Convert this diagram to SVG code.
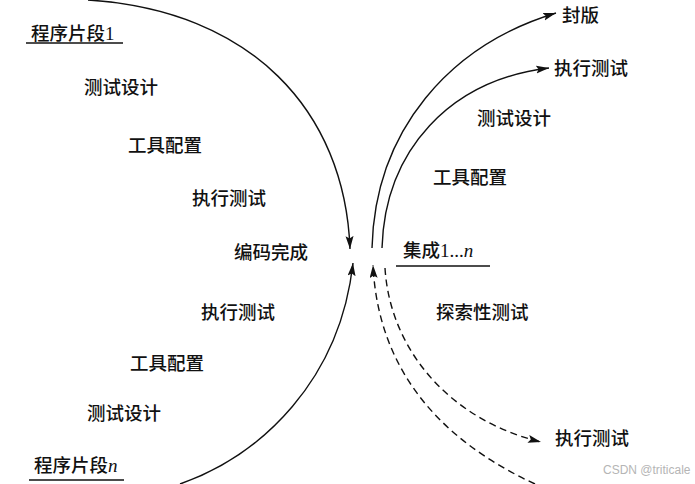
<svg xmlns="http://www.w3.org/2000/svg" width="695" height="484" viewBox="0 0 695 484">
<style>
  .t { font-family: "Noto Sans CJK SC", "Liberation Serif", serif; font-size: 18.5px; font-weight: 500; fill: #111; }
  .num { font-family: "Liberation Serif", serif; font-weight: normal; font-size: 19px; }
  .it { font-style: italic; }
  .c { fill: none; stroke: #111; stroke-width: 1.4; }
  .d { stroke-dasharray: 7 4.5; }
  .ul { stroke: #111; stroke-width: 1.3; }
  .wm { font-family: "Liberation Sans", sans-serif; font-size: 12px; fill: #b5b5b5; }
</style>
<defs>
  <marker id="ah" markerUnits="userSpaceOnUse" markerWidth="14" markerHeight="10" refX="13" refY="4" orient="auto">
    <path d="M0,0 L13,4 L0,8 L2.5,4 z" fill="#111"/>
  </marker>
</defs>
<rect width="695" height="484" fill="#fff"/>
<g id="connectors">
  <path class="c" d="M88,0 C250,10 345,110 350,249" marker-end="url(#ah)"/>
  <path class="c" d="M180,484 C262,455 340,380 353,263" marker-end="url(#ah)"/>
  <path class="c" d="M372,248 C375,130 450,45 556,13" marker-end="url(#ah)"/>
  <path class="c" d="M382,248 C385,150 450,80 549,68" marker-end="url(#ah)"/>
  <path class="c d" d="M385,268 C390,350 450,420 541,442" marker-end="url(#ah)"/>
  <path class="c d" d="M535,484 C440,440 378,370 373,265" marker-end="url(#ah)"/>
</g>
<g id="seg1">
  <text class="t" x="31" y="40">程序片段<tspan class="num">1</tspan></text>
  <line class="ul" x1="26" y1="43" x2="123" y2="43"/>
</g>
<g id="seg1-design"><text class="t" x="84" y="94">测试设计</text></g>
<g id="seg1-tool"><text class="t" x="128" y="152">工具配置</text></g>
<g id="seg1-exec"><text class="t" x="192" y="205">执行测试</text></g>
<g id="coding-done"><text class="t" x="234" y="259">编码完成</text></g>
<g id="segn-exec"><text class="t" x="201" y="319">执行测试</text></g>
<g id="segn-tool"><text class="t" x="130" y="370">工具配置</text></g>
<g id="segn-design"><text class="t" x="87" y="420">测试设计</text></g>
<g id="segn">
  <text class="t" x="34" y="472">程序片段<tspan class="num it">n</tspan></text>
  <line class="ul" x1="29" y1="480" x2="124" y2="480"/>
</g>
<g id="release"><text class="t" x="562" y="22">封版</text></g>
<g id="int-exec"><text class="t" x="554" y="75">执行测试</text></g>
<g id="int-design"><text class="t" x="477" y="125">测试设计</text></g>
<g id="int-tool"><text class="t" x="433" y="184">工具配置</text></g>
<g id="integration">
  <text class="t" x="403" y="257">集成<tspan class="num">1...</tspan><tspan class="num it">n</tspan></text>
  <line class="ul" x1="396" y1="266" x2="490" y2="266"/>
</g>
<g id="explore"><text class="t" x="436" y="319">探索性测试</text></g>
<g id="explore-exec"><text class="t" x="555" y="445">执行测试</text></g>
<text class="wm" x="603" y="474">CSDN @triticale</text>
</svg>
